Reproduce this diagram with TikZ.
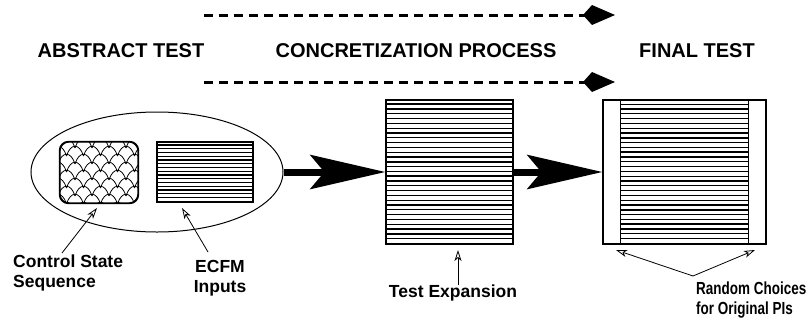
\documentclass[tikz,border=0pt]{standalone}
\usepackage{fontspec}
\setmainfont{Liberation Sans}
\newfontfamily\narrowsans[FakeStretch=0.77]{Liberation Sans}
\usetikzlibrary{arrows.meta,shapes.geometric,calc}

\begin{document}
\begin{tikzpicture}[
    x=1pt, y=-1pt,
    % Define Styles
    heading/.style={
        inner sep=0pt,
        font=\fontsize{20}{24}\selectfont\bfseries
    },
    label/.style={
        inner sep=0pt,
        font=\fontsize{17.5}{20}\selectfont\bfseries
    },
    testbox/.style={
        draw,
        line width=1.2pt,
        inner sep=0pt
    },
    hatchline/.style={
        draw,
        line width=1.2pt
    },
    meshline/.style={
        draw,
        line width=0.8pt
    },
    bigarrow/.style={
        draw,
        line width=7pt,
        -{Stealth[length=75pt,width=34pt,inset=14pt]}
    },
    flowarrow/.style={
        draw,
        line width=3pt,
        dash pattern=on 9pt off 6pt,
        -{Kite[length=32pt,width=20pt,inset=9pt]}
    },
    leader/.style={
        draw,
        line width=0.8pt,
        -{Stealth[open,fill=white,length=11pt,width=7pt,inset=3pt]}
    }
    ]

    \useasboundingbox (0,0) rectangle (807,325);

    % Headings
    \node[heading] (habs) at (121,51) {ABSTRACT TEST};
    \node[heading] (hcon) at (416,51) {CONCRETIZATION PROCESS};
    \node[heading] (hfin) at (697,51) {FINAL TEST};

    % Dashed flow arrows
    \coordinate (f1a) at (204,15);
    \coordinate (f1b) at (615,15);
    \coordinate (f2a) at (204,82);
    \coordinate (f2b) at (615,82);
    \draw[flowarrow] (f1a) -- (f1b);
    \draw[flowarrow] (f2a) -- (f2b);

    % Abstract test
    \node[ellipse, draw, line width=1pt, minimum width=252pt,
          minimum height=120pt, inner sep=0pt] (abstract) at (157,172) {};
    \node[testbox, rounded corners=9pt, minimum width=78pt,
          minimum height=61pt] (ctrl) at (99,172.5) {};
    \node[testbox, minimum width=96pt, minimum height=60pt] (ecfm) at (205,172) {};

    % Control state mesh
    \begin{scope}
        \clip[rounded corners=9pt] (ctrl.south west) rectangle (ctrl.north east);
        \foreach \j in {0,...,8} {
            \foreach \i in {-1,...,5} {
                \pgfmathsetmacro\xa{58+\i*17+mod(\j,2)*8.5}
                \pgfmathsetmacro\ya{148+\j*8}
                \draw[meshline] (\xa,\ya) .. controls (\xa+4,\ya-13) and (\xa+13,\ya-13) .. (\xa+17,\ya);
            }
        }
    \end{scope}
    \draw[testbox, rounded corners=9pt] (ctrl.south west) rectangle (ctrl.north east);

    % ECFM inputs
    \foreach \k [evaluate=\k as \lw using {mod(\k,4)==1 ? 1.7 : 1.0}] in {1,...,15}
        \draw[hatchline, line width=\lw pt] ($(ecfm.north west)+(0,\k*3.75)$) -- ($(ecfm.north east)+(0,\k*3.75)$);

    % Test expansion
    \node[testbox, minimum width=127pt, minimum height=144pt] (expand) at (449.5,172) {};
    \foreach \k [evaluate=\k as \lw using {mod(\k,3)==1 ? 1.7 : 1.1}] in {1,...,29}
        \draw[hatchline, line width=\lw pt] ($(expand.north west)+(0,\k*4.8)$) -- ($(expand.north east)+(0,\k*4.8)$);

    % Final test
    \node[testbox, minimum width=163pt, minimum height=144pt] (final) at (684.5,172) {};
    \draw[testbox] ($(final.north west)+(18,0)$) -- ($(final.south west)+(18,0)$);
    \draw[testbox] ($(final.north east)+(-18,0)$) -- ($(final.south east)+(-18,0)$);
    \foreach \k [evaluate=\k as \lw using {mod(\k,3)==2 ? 1.7 : 1.1}] in {1,...,29}
        \draw[hatchline, line width=\lw pt] ($(final.north west)+(18,\k*4.8)$) -- ($(final.north east)+(-18,\k*4.8)$);

    % Big arrows
    \draw[bigarrow] (abstract.east) -- (expand.west);
    \draw[bigarrow] (expand.east) -- (final.west);

    % Labels
    \node[label, anchor=west, align=left] (css) at (13,273) {Control State\\Sequence};
    \node[label, align=center] (inp) at (220,278) {ECFM\\Inputs};
    \node[label] (texp) at (453,293) {Test Expansion};
    \node[label, anchor=west, align=left, font=\fontsize{17.5}{20}\selectfont\narrowsans\bfseries]
        (rand) at (696,300) {Random Choices\\for Original PIs};

    % Leaders
    \coordinate (cssFoot) at (62,253);
    \coordinate (cssTip) at (97,208);
    \coordinate (inpFoot) at (208,252);
    \coordinate (inpTip) at (182,208);
    \coordinate (texpFoot) at (458,285);
    \coordinate (texpTip) at (458,250);
    \coordinate (randFoot) at (693,276);
    \coordinate (randTipL) at (616,250);
    \coordinate (randTipR) at (755,250);
    \draw[leader] (cssFoot) -- (cssTip);
    \draw[leader] (inpFoot) -- (inpTip);
    \draw[leader] (texpFoot) -- (texpTip);
    \draw[leader] (randFoot) -- (randTipL);
    \draw[leader] (randFoot) -- (randTipR);

\end{tikzpicture}
\end{document}
